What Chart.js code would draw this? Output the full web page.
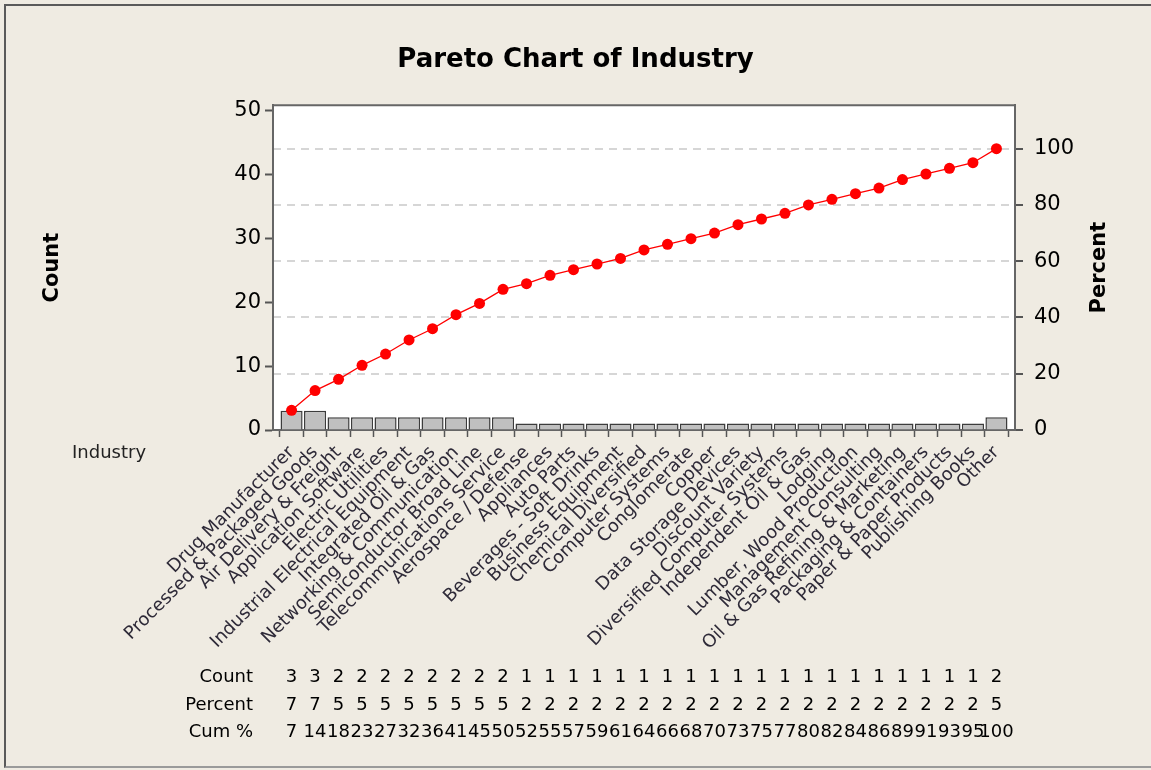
<!DOCTYPE html>
<html><head><meta charset="utf-8">
<script src="https://cdn.jsdelivr.net/npm/chart.js@4"></script>
<style>
html,body{margin:0;padding:0;background:#efebe2;}
#wrap{position:relative;width:1151px;height:770px;overflow:hidden;}
#frame{position:absolute;left:4px;top:4px;width:1147px;height:764px;border-left:2px solid #5a5a5a;border-top:2px solid #5a5a5a;border-bottom:2px solid #9a9a9a;box-sizing:border-box;pointer-events:none;}
canvas{display:block}
</style></head><body>
<div id="wrap"><canvas id="c" width="1151" height="770"></canvas><div id="frame"></div></div>
<script>
const categories = [
  "Drug Manufacturer", "Processed & Packaged Goods", "Air Delivery & Freight",
  "Application Software", "Electric Utilities", "Industrial Electrical Equipment",
  "Integrated Oil & Gas", "Networking & Communication", "Semiconductor Broad Line",
  "Telecommunications Service", "Aerospace / Defense", "Appliances", "Auto Parts",
  "Beverages - Soft Drinks", "Business Equipment", "Chemical Diversified",
  "Computer Systems", "Conglomerate", "Copper", "Data Storage Devices",
  "Discount Variety", "Diversified Computer Systems", "Independent Oil & Gas",
  "Lodging", "Lumber, Wood Production", "Management Consulting",
  "Oil & Gas Refining & Marketing", "Packaging & Containers",
  "Paper & Paper Products", "Publishing Books", "Other"
];
const counts      = [3,3,2,2,2,2,2,2,2,2,1,1,1,1,1,1,1,1,1,1,1,1,1,1,1,1,1,1,1,1,2];
const percents    = [7,7,5,5,5,5,5,5,5,5,2,2,2,2,2,2,2,2,2,2,2,2,2,2,2,2,2,2,2,2,5];
const cumPercents = [7,14,18,23,27,32,36,41,45,50,52,55,57,59,61,64,66,68,70,73,75,77,80,82,84,86,89,91,93,95,100];
const countTicks   = [0,10,20,30,40,50];
const percentTicks = [0,20,40,60,80,100];
const countMax = 50.8;          // top of the frame in count units
const percentMax = 115.45;      // same height in percent units (44 counts = 100%)
const tableRows = [["Count", counts], ["Percent", percents], ["Cum %", cumPercents]];

const FONT = "'DejaVu Sans', sans-serif";

const decor = {
  id: 'decor',
  beforeDraw(chart) {
    const {ctx, chartArea: a} = chart;
    ctx.save();
    ctx.fillStyle = '#efebe2';
    ctx.fillRect(0, 0, chart.width, chart.height);
    ctx.fillStyle = '#ffffff';
    ctx.fillRect(a.left, a.top, a.right - a.left, a.bottom - a.top);
    ctx.restore();
  },
  afterDraw(chart) {
    const {ctx, chartArea: a} = chart;
    const xs = chart.scales.x;
    ctx.save();
    // top frame line
    ctx.strokeStyle = '#666';
    ctx.lineWidth = 2;
    ctx.beginPath();
    ctx.moveTo(a.left - 1, a.top);
    ctx.lineTo(a.right + 1, a.top);
    ctx.stroke();
    // right axis title
    ctx.fillStyle = '#000';
    ctx.font = "bold 21px " + FONT;
    ctx.textAlign = 'center';
    ctx.textBaseline = 'middle';
    ctx.translate(a.right + 85, (a.top + a.bottom) / 2);
    ctx.rotate(-Math.PI / 2);
    ctx.fillText('Percent', 0, 0);
    ctx.setTransform(1, 0, 0, 1, 0, 0);
    // "Industry" axis name
    ctx.font = "18px " + FONT;
    ctx.textAlign = 'left';
    ctx.fillStyle = '#222';
    ctx.fillText('Industry', 72, a.bottom + 23);
    // table
    const rowY = [247, 275, 302];
    tableRows.forEach((row, r) => {
      const y = a.bottom + rowY[r];
      ctx.textAlign = 'right';
      ctx.fillStyle = '#000';
      ctx.fillText(row[0], 253, y);
      ctx.textAlign = 'center';
      row[1].forEach((v, i) => {
        ctx.fillText(String(v), xs.getPixelForValue(i), y);
      });
    });
    ctx.restore();
  }
};

const ctx = document.getElementById('c').getContext('2d');
new Chart(ctx, {
  type: 'bar',
  data: {
    datasets: [
      {
        type: 'line',
        label: 'Cum %',
        data: cumPercents.map((v, i) => ({x: i, y: v})),
        yAxisID: 'y1',
        borderColor: '#ff0000',
        backgroundColor: '#ff0000',
        borderWidth: 1.3,
        pointRadius: 5.5,
        pointBorderWidth: 0,
        pointBackgroundColor: '#ff0000',
        tension: 0,
        order: 0
      },
      {
        type: 'bar',
        label: 'Count',
        data: counts.map((v, i) => ({x: i, y: v})),
        yAxisID: 'y',
        backgroundColor: '#c0c0c0',
        borderColor: '#3c3c3c',
        borderWidth: 1.5,
        barPercentage: 1,
        categoryPercentage: 0.94,
        order: 1
      }
    ]
  },
  options: {
    responsive: false,
    animation: false,
    devicePixelRatio: 1,
    layout: {padding: 0},
    plugins: {
      legend: {display: false},
      tooltip: {enabled: false},
      title: {
        display: true,
        text: 'Pareto Chart of Industry',
        color: '#000',
        font: {family: FONT, size: 26, weight: 'bold'},
        padding: {top: 45, bottom: 29}
      }
    },
    scales: {
      x: {
        type: 'linear',
        min: -0.79,
        max: 30.79,
        offset: false,
        afterFit(s) { s.height = 340; },
        afterBuildTicks(s) { s.ticks = categories.map((c, i) => ({value: i})); },
        ticks: {
          autoSkip: false,
          minRotation: 45,
          maxRotation: 45,
          padding: 5,
          color: '#2e2a38',
          font: {family: FONT, size: 18},
          callback: (v) => categories[v]
        },
        grid: {drawOnChartArea: false, drawTicks: true, tickLength: 7, tickColor: '#555', tickWidth: 1.5},
        border: {display: true, color: '#666', width: 2}
      },
      y: {
        position: 'left',
        min: 0,
        max: countMax,
        afterFit(s) { s.width = 273; },
        afterBuildTicks(s) { s.ticks = countTicks.map(v => ({value: v})); },
        ticks: {color: '#000', padding: 4, font: {family: FONT, size: 21}},
        grid: {drawOnChartArea: false, tickLength: 8, tickColor: '#555', tickWidth: 2},
        border: {display: true, color: '#666', width: 2},
        title: {display: true, text: 'Count', color: '#000', font: {family: FONT, size: 21, weight: 'bold'}, padding: {top: 40, bottom: 0}}
      },
      y1: {
        position: 'right',
        min: 0,
        max: percentMax,
        afterFit(s) { s.width = 136; },
        afterBuildTicks(s) { s.ticks = percentTicks.map(v => ({value: v})); },
        ticks: {color: '#000', padding: 11, font: {family: FONT, size: 21}},
        grid: {
          drawOnChartArea: true,
          color: '#d6d6d6',
          lineWidth: 2,
          tickLength: 8,
          tickColor: '#555',
          tickWidth: 2,
          tickBorderDash: []
        },
        border: {display: true, color: '#666', width: 2, dash: [8, 6]}
      }
    }
  },
  plugins: [decor]
});
</script>
</body></html>
